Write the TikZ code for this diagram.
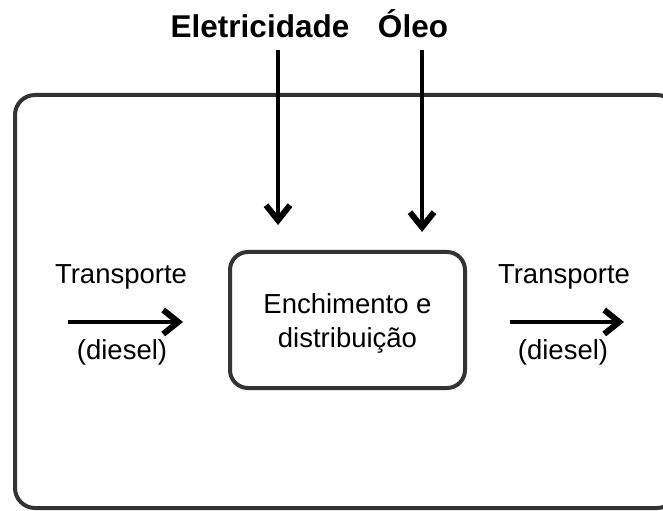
\documentclass[tikz,border=0pt]{standalone}
\usepackage{fontspec}
\setmainfont{Liberation Sans}
\usetikzlibrary{arrows.meta}
\definecolor{boxline}{HTML}{333333}
\tikzset{
  px/.style={x=1bp,y=-1bp},
  lbl/.style={inner sep=0pt,anchor=base,font=\fontsize{27.5bp}{34bp}\selectfont},
  ttl/.style={inner sep=0pt,anchor=base,font=\fontsize{31.5bp}{34bp}\selectfont\bfseries},
  flow/.style={line width=4bp,black,-{Straight Barb[length=15bp,width=24bp,line width=6bp]}},
  procbox/.style={draw=boxline,line width=4bp,rounded corners=18bp,minimum width=235bp,minimum height=136bp,inner sep=0pt},
  inner/.style={inner sep=0pt,anchor=base,font=\fontsize{27.5bp}{34bp}\selectfont}
}
\begin{document}
\begin{tikzpicture}[px]
\useasboundingbox (0,0) rectangle (663,511);
\begin{scope}
\clip (0,0) rectangle (663,511);
\draw[draw=boxline,line width=4bp,rounded corners=20bp] (15,95) rectangle (677,508);
\end{scope}
\node[ttl] (elec) at (260,38) {Eletricidade};
\node[ttl] (oleo) at (413,38) {Óleo};
\node[procbox] (proc) at (347.5,320) {};
\node[inner] (p1) at (proc.center |- 0,313) {Enchimento e};
\node[inner] (p2) at (proc.center |- 0,347) {distribuição};
\node[lbl] (tin) at (121,283) {Transporte};
\node[lbl] (din) at (122,359) {(diesel)};
\node[lbl] (tout) at (564,283) {Transporte};
\node[lbl] (dout) at (563,359) {(diesel)};
\coordinate (e1) at (278,50);
\coordinate (e2) at (278,225);
\coordinate (o1) at (422,50);
\coordinate (o2) at (422,232);
\coordinate (i1) at (68,322);
\coordinate (i2) at (183,322);
\coordinate (u1) at (510,322);
\coordinate (u2) at (624,322);
\draw[flow] (e1) -- (e2);
\draw[flow] (o1) -- (o2);
\draw[flow] (i1) -- (i2);
\draw[flow] (u1) -- (u2);
\end{tikzpicture}
\end{document}
